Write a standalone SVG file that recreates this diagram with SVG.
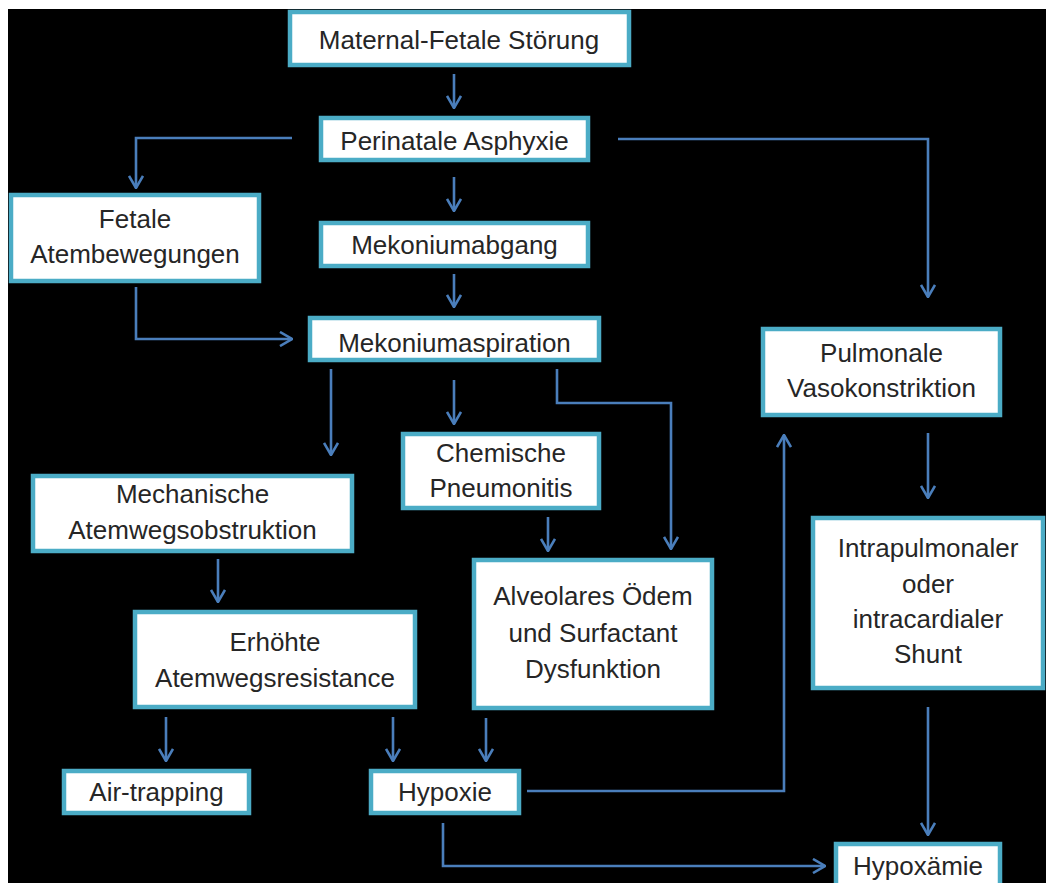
<svg xmlns="http://www.w3.org/2000/svg" width="1046" height="883" viewBox="0 0 1046 883">
<style>
.box{fill:#ffffff;stroke:#4bacc6;stroke-width:4.5}
.t{font-family:"Liberation Sans",Arial,sans-serif;font-size:26px;fill:#262626;text-anchor:middle}
.c{fill:none;stroke:#4a7ebb;stroke-width:2.6;marker-end:url(#ah)}
</style>
<defs>
<marker id="ah" viewBox="0 0 14 16" refX="13" refY="8" markerWidth="14" markerHeight="16" markerUnits="userSpaceOnUse" orient="auto">
<path d="M1,1 L13,8 L1,15" fill="none" stroke="#4a7ebb" stroke-width="2.6"/>
</marker>
</defs>
<rect x="0" y="0" width="1046" height="883" fill="#ffffff"/>
<rect x="8" y="9" width="1038" height="874" fill="#000000"/>
<g id="connectors">
<path class="c" d="M454,74 V108"/>
<path class="c" d="M292,138 H136 V188"/>
<path class="c" d="M454,177 V211"/>
<path class="c" d="M618,139 H928 V297"/>
<path class="c" d="M454,274 V307"/>
<path class="c" d="M136,287 V339 H292"/>
<path class="c" d="M331,369 V455"/>
<path class="c" d="M454,380 V424"/>
<path class="c" d="M557,369 V403 H671 V549"/>
<path class="c" d="M548,517 V551"/>
<path class="c" d="M218,559 V602"/>
<path class="c" d="M166,717 V761"/>
<path class="c" d="M393,717 V761"/>
<path class="c" d="M486,718 V761"/>
<path class="c" d="M527,791 H784 V435"/>
<path class="c" d="M928,433 V498"/>
<path class="c" d="M928,707 V835"/>
<path class="c" d="M443,823 V866 H825"/>
</g>
<g id="n-maternal"><rect class="box" x="290" y="12" width="339" height="53"/><text class="t" x="459" y="49">Maternal-Fetale Störung</text></g>
<g id="n-perinatale"><rect class="box" x="321" y="118" width="267" height="42"/><text class="t" x="454.5" y="150">Perinatale Asphyxie</text></g>
<g id="n-fetale"><rect class="box" x="11" y="195" width="248" height="86"/><text class="t" x="135" y="228">Fetale</text><text class="t" x="135" y="263">Atembewegungen</text></g>
<g id="n-mekoniumabgang"><rect class="box" x="321" y="223" width="267" height="43"/><text class="t" x="454.5" y="254">Mekoniumabgang</text></g>
<g id="n-mekoniumaspiration"><rect class="box" x="310" y="318" width="289" height="42"/><text class="t" x="454.5" y="352">Mekoniumaspiration</text></g>
<g id="n-chemische"><rect class="box" x="403" y="434" width="196" height="74"/><text class="t" x="501" y="462">Chemische</text><text class="t" x="501" y="497">Pneumonitis</text></g>
<g id="n-alveolares"><rect class="box" x="474" y="560" width="238" height="148"/><text class="t" x="593" y="605">Alveolares Ödem</text><text class="t" x="593" y="642">und Surfactant</text><text class="t" x="593" y="678">Dysfunktion</text></g>
<g id="n-mechanische"><rect class="box" x="33" y="476" width="319" height="75"/><text class="t" x="192.5" y="503">Mechanische</text><text class="t" x="192.5" y="539">Atemwegsobstruktion</text></g>
<g id="n-erhoehte"><rect class="box" x="135" y="612" width="280" height="95"/><text class="t" x="275" y="651">Erhöhte</text><text class="t" x="275" y="687">Atemwegsresistance</text></g>
<g id="n-airtrapping"><rect class="box" x="64" y="771" width="185" height="42"/><text class="t" x="156.5" y="801">Air-trapping</text></g>
<g id="n-hypoxie"><rect class="box" x="371" y="771" width="148" height="42"/><text class="t" x="445" y="801">Hypoxie</text></g>
<g id="n-pulmonale"><rect class="box" x="763" y="329" width="237" height="86"/><text class="t" x="881.5" y="362">Pulmonale</text><text class="t" x="881.5" y="397">Vasokonstriktion</text></g>
<g id="n-shunt"><rect class="box" x="813" y="518" width="230" height="170"/><text class="t" x="928" y="557">Intrapulmonaler</text><text class="t" x="928" y="593">oder</text><text class="t" x="928" y="628">intracardialer</text><text class="t" x="928" y="663">Shunt</text></g>
<g id="n-hypoxaemie"><rect class="box" x="836" y="844" width="164" height="50"/><text class="t" x="918" y="875">Hypoxämie</text></g>
</svg>
